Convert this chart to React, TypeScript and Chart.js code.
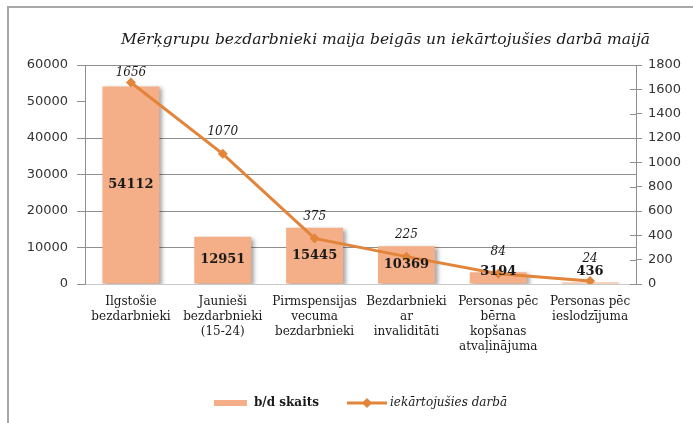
import React, { useEffect, useRef } from "react";
import { Chart, registerables } from "chart.js";

Chart.register(...registerables);

const TITLE = "Mērķgrupu bezdarbnieki maija beigās un iekārtojušies darbā maijā";
const CATEGORIES: string[][] = [
  ["Ilgstošie", "bezdarbnieki"],
  ["Jaunieši", "bezdarbnieki", "(15-24)"],
  ["Pirmspensijas", "vecuma", "bezdarbnieki"],
  ["Bezdarbnieki", "ar", "invaliditāti"],
  ["Personas pēc", "bērna", "kopšanas", "atvaļinājuma"],
  ["Personas pēc", "ieslodzījuma"],
];
const UNEMPLOYED = [54112, 12951, 15445, 10369, 3194, 436];
const EMPLOYED = [1656, 1070, 375, 225, 84, 24];
const BAR_LABEL = "b/d skaits";
const LINE_LABEL = "iekārtojušies darbā";
const LEFT_MAX = 60000;
const LEFT_STEP = 10000;
const RIGHT_MAX = 1800;
const RIGHT_STEP = 200;

const BAR_COLOR = "#F5AF88";
const LINE_COLOR = "#E2843A";
const GRID_COLOR = "#8f8f8f";
const SERIF = "'DejaVu Serif', 'Liberation Serif', serif";
const SANS = "'DejaVu Sans', 'Liberation Sans', sans-serif";

export default function App() {
  const ref = useRef<HTMLCanvasElement | null>(null);

  useEffect(() => {
    document.body.style.margin = "0";
    const canvas = ref.current;
    if (!canvas) return;

    const framePlugin = {
      id: "frame",
      beforeDraw(chart: any) {
        const { ctx, width, height } = chart;
        ctx.save();
        ctx.fillStyle = "#ffffff";
        ctx.fillRect(0, 0, width, height);
        ctx.strokeStyle = "#a8a8a8";
        ctx.lineWidth = 2;
        ctx.beginPath();
        ctx.moveTo(8, height);
        ctx.lineTo(8, 7);
        ctx.lineTo(width, 7);
        ctx.stroke();
        // title
        ctx.fillStyle = "#1a1a1a";
        ctx.font = `italic 15.5px ${SERIF}`;
        ctx.textAlign = "center";
        ctx.textBaseline = "middle";
        const ca = chart.chartArea;
        ctx.fillText(TITLE, (ca.left + ca.right) / 2 + 25, 40);
        ctx.restore();
      },
    };

    const shadowPlugin = {
      id: "barShadow",
      beforeDatasetDraw(chart: any, args: any) {
        if (args.index !== 0) return;
        const ctx = chart.ctx;
        ctx.save();
        ctx.shadowColor = "rgba(0,0,0,0.35)";
        ctx.shadowBlur = 4;
        ctx.shadowOffsetX = 3;
        ctx.shadowOffsetY = 2;
      },
      afterDatasetDraw(chart: any, args: any) {
        if (args.index !== 0) return;
        chart.ctx.restore();
      },
    };

    const rightTicksPlugin = {
      id: "rightTicks",
      afterDraw(chart: any) {
        const s = chart.scales.y1;
        const ctx = chart.ctx;
        ctx.save();
        ctx.strokeStyle = GRID_COLOR;
        ctx.lineWidth = 1;
        s.ticks.forEach((t: any, i: number) => {
          const y = Math.round(s.getPixelForTick(i)) + 0.5;
          ctx.beginPath();
          ctx.moveTo(s.left - 6, y);
          ctx.lineTo(s.left, y);
          ctx.stroke();
        });
        ctx.restore();
      },
    };

    const labelsPlugin = {
      id: "valueLabels",
      afterDatasetsDraw(chart: any) {
        const ctx = chart.ctx;
        ctx.save();
        ctx.textAlign = "center";
        ctx.textBaseline = "middle";
        const barMeta = chart.getDatasetMeta(0);
        ctx.font = `bold 13px ${SERIF}`;
        ctx.fillStyle = "#1a1a1a";
        barMeta.data.forEach((el: any, i: number) => {
          const y = Math.min((el.y + el.base) / 2, el.base - 12);
          ctx.fillText(String(UNEMPLOYED[i]), el.x, y);
        });
        const lineMeta = chart.getDatasetMeta(1);
        ctx.font = `italic 12px ${SERIF}`;
        lineMeta.data.forEach((el: any, i: number) => {
          const y = Math.max(el.y - 22, chart.chartArea.top + 8);
          ctx.fillText(String(EMPLOYED[i]), el.x, y);
        });
        ctx.restore();
      },
    };

    const legendPlugin = {
      id: "customLegend",
      afterDraw(chart: any) {
        const ctx = chart.ctx;
        const ca = chart.chartArea;
        const cy = 403;
        ctx.save();
        ctx.textBaseline = "middle";
        ctx.textAlign = "left";
        ctx.font = `bold 12px ${SERIF}`;
        const w1 = ctx.measureText(BAR_LABEL).width;
        ctx.font = `italic 12px ${SERIF}`;
        const w2 = ctx.measureText(LINE_LABEL).width;
        const total = 33 + 7 + w1 + 28 + 40 + 3 + w2;
        let x = (ca.left + ca.right) / 2 - total / 2;
        ctx.fillStyle = BAR_COLOR;
        ctx.fillRect(x, cy - 3, 33, 6);
        x += 40;
        ctx.fillStyle = "#1a1a1a";
        ctx.font = `bold 12px ${SERIF}`;
        ctx.fillText(BAR_LABEL, x, cy);
        x += w1 + 28;
        ctx.strokeStyle = LINE_COLOR;
        ctx.lineWidth = 3;
        ctx.beginPath();
        ctx.moveTo(x, cy);
        ctx.lineTo(x + 40, cy);
        ctx.stroke();
        ctx.fillStyle = LINE_COLOR;
        ctx.beginPath();
        ctx.moveTo(x + 20, cy - 5);
        ctx.lineTo(x + 25, cy);
        ctx.lineTo(x + 20, cy + 5);
        ctx.lineTo(x + 15, cy);
        ctx.closePath();
        ctx.fill();
        x += 43;
        ctx.fillStyle = "#1a1a1a";
        ctx.font = `italic 12px ${SERIF}`;
        ctx.fillText(LINE_LABEL, x, cy);
        ctx.restore();
      },
    };

    const chart = new Chart(canvas, {
      type: "bar",
      data: {
        labels: CATEGORIES,
        datasets: [
          {
            type: "bar",
            label: BAR_LABEL,
            data: UNEMPLOYED,
            yAxisID: "y",
            backgroundColor: BAR_COLOR,
            borderWidth: 0,
            categoryPercentage: 1,
            barPercentage: 0.62,
            order: 2,
          },
          {
            type: "line",
            label: LINE_LABEL,
            data: EMPLOYED,
            yAxisID: "y1",
            borderColor: LINE_COLOR,
            backgroundColor: LINE_COLOR,
            borderWidth: 3,
            pointStyle: "rectRot",
            pointRadius: 5,
            pointBorderWidth: 0,
            tension: 0,
            order: 1,
          },
        ] as any,
      },
      options: {
        animation: false,
        responsive: false,
        maintainAspectRatio: false,
        devicePixelRatio: 1,
        layout: { padding: { top: 65, left: 0, right: 0, bottom: 0 } },
        plugins: {
          legend: { display: false },
          title: { display: false },
          tooltip: { enabled: false },
        },
        scales: {
          x: {
            grid: { display: false, drawTicks: false },
            border: { display: true, color: "#c9c9c9" },
            ticks: {
              color: "#1a1a1a",
              font: { family: SERIF, size: 12, lineHeight: 1.25 },
              padding: 10,
              maxRotation: 0,
              autoSkip: false,
            },
            afterFit(scale: any) {
              scale.height = 139;
            },
          },
          y: {
            position: "left",
            min: 0,
            max: LEFT_MAX,
            grid: {
              color: (c: any) =>
                c.tick && (c.tick.value === 50000 || c.tick.value === 0) ? "rgba(0,0,0,0)" : GRID_COLOR,
              tickLength: 8,
              tickColor: GRID_COLOR,
            },
            border: { display: true, color: GRID_COLOR },
            ticks: {
              stepSize: LEFT_STEP,
              color: "#333333",
              font: { family: SANS, size: 13 },
              padding: 9,
              callback: (v: any) => String(v),
            },
            afterFit(scale: any) {
              scale.width = 85;
            },
          },
          y1: {
            position: "right",
            min: 0,
            max: RIGHT_MAX,
            grid: { drawOnChartArea: false, tickLength: 6, color: GRID_COLOR },
            border: { display: true, color: GRID_COLOR },
            ticks: {
              stepSize: RIGHT_STEP,
              color: "#333333",
              font: { family: SANS, size: 13 },
              padding: 6,
              callback: (v: any) => String(v),
            },
            afterFit(scale: any) {
              scale.width = 57;
            },
          },
        },
      } as any,
      plugins: [framePlugin, shadowPlugin, rightTicksPlugin, labelsPlugin, legendPlugin],
    });

    return () => chart.destroy();
  }, []);

  return (
    <div style={{ position: "relative", width: 693, height: 423 }}>
      <canvas ref={ref} width={693} height={423} style={{ display: "block", width: 693, height: 423 }} />
    </div>
  );
}
